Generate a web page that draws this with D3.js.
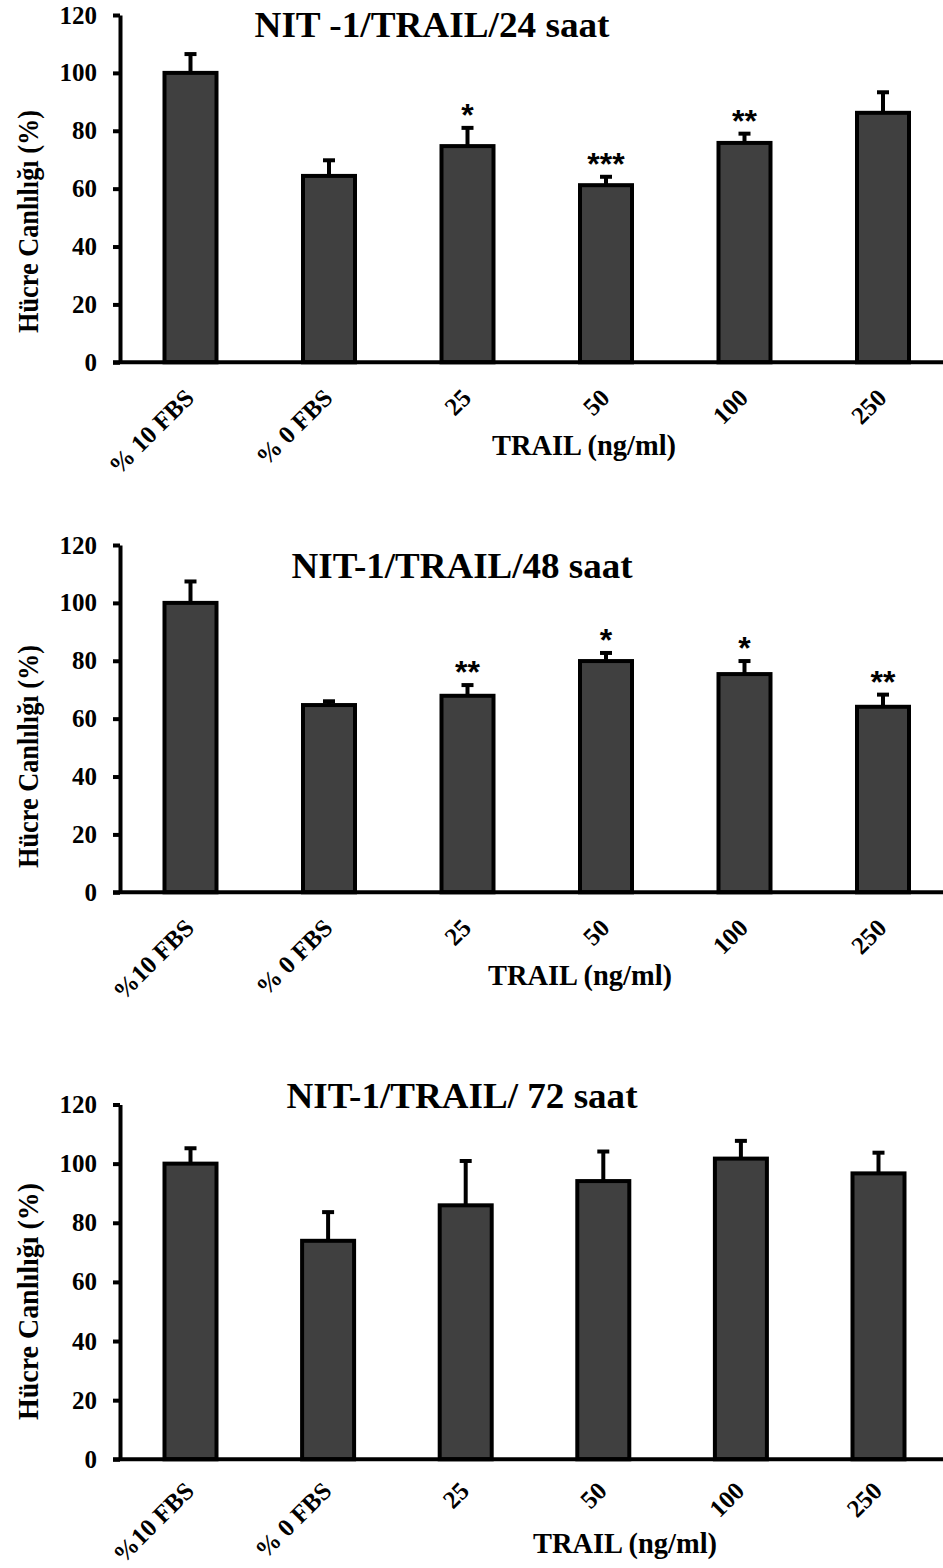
<!DOCTYPE html>
<html>
<head>
<meta charset="utf-8">
<script src="https://cdn.jsdelivr.net/npm/d3@7"></script>
<style>
  html, body { margin: 0; padding: 0; background: #fff; }
  svg { display: block; }
  text { font-family: "Liberation Serif", "Times New Roman", serif; font-weight: bold; fill: #000; }
</style>
</head>
<body>
<svg id="chart" width="943" height="1568"></svg>
<script>
// Cell viability (%) after TRAIL treatment, three incubation times
const categories24 = ["% 10 FBS", "% 0 FBS", "25", "50", "100", "250"];
const categories48 = ["%10 FBS", "% 0 FBS", "25", "50", "100", "250"];
const categories72 = ["%10 FBS", "% 0 FBS", "25", "50", "100", "250"];

const values24 = [100, 64.4, 74.7, 61.2, 75.8, 86.2];
const errors24 = [6.5, 5.4, 6.3, 2.9, 3.2, 7.1];
const stars24  = ["", "", "*", "***", "**", ""];

const values48 = [100, 64.7, 67.9, 79.9, 75.4, 64.1];
const errors48 = [7.4, 1.3, 3.7, 2.8, 4.5, 4.2];
const stars48  = ["", "", "**", "*", "*", "**"];

const values72 = [100, 73.9, 85.9, 94.1, 101.7, 96.7];
const errors72 = [5.2, 9.7, 15.0, 10.0, 6.0, 7.0];
const stars72  = ["", "", "", "", "", ""];

const yTicks = [0, 20, 40, 60, 80, 100, 120];

const titles = ["NIT -1/TRAIL/24 saat", "NIT-1/TRAIL/48 saat", "NIT-1/TRAIL/ 72 saat"];
const yAxisTitle = "Hücre Canlılığı (%)";
const xAxisTitle = "TRAIL (ng/ml)";

// Panel layout (pixels)
const panels = [
  { cats: categories24, vals: values24, errs: errors24, stars: stars24, title: titles[0],
    zeroY: 362.3, topY: 15, xFirst: 190.5, xLast: 883, labelDrop: 37,
    titleX: 432, titleY: 37, titleLen: 355,
    yLabelY: 221.5, yLabelLen: 223, xTitleX: 584, xTitleY: 455 },
  { cats: categories48, vals: values48, errs: errors48, stars: stars48, title: titles[1],
    zeroY: 892.3, topY: 545, xFirst: 190.5, xLast: 883, labelDrop: 37,
    titleX: 462, titleY: 578, titleLen: 341,
    yLabelY: 756.5, yLabelLen: 223, xTitleX: 580, xTitleY: 985 },
  { cats: categories72, vals: values72, errs: errors72, stars: stars72, title: titles[2],
    zeroY: 1459.3, topY: 1104.5, xFirst: 190.5, xLast: 878.5, labelDrop: 33,
    titleX: 462, titleY: 1108, titleLen: 351,
    yLabelY: 1301.5, yLabelLen: 237, xTitleX: 625, xTitleY: 1553 }
];

const svg = d3.select("#chart");
const axisX = 120;       // y-axis position
const barW = 52;
const capW = 12;
const lineW = 4;
const barFill = "#404040";

panels.forEach(p => {
  const g = svg.append("g");

  const y = d3.scaleLinear().domain([0, 120]).range([p.zeroY, p.topY]);
  const x = d3.scalePoint().domain(p.cats).range([p.xFirst, p.xLast]);

  const rows = p.cats.map((c, i) => ({ cat: c, v: p.vals[i], e: p.errs[i], s: p.stars[i] }));

  // bars
  g.selectAll("rect.bar").data(rows).join("rect")
    .attr("class", "bar")
    .attr("x", d => x(d.cat) - barW / 2)
    .attr("y", d => y(d.v))
    .attr("width", barW)
    .attr("height", d => y(0) - y(d.v))
    .attr("fill", barFill)
    .attr("stroke", "#000")
    .attr("stroke-width", lineW);

  // error bars (upper only)
  g.selectAll("line.err").data(rows).join("line")
    .attr("class", "err")
    .attr("x1", d => x(d.cat)).attr("x2", d => x(d.cat))
    .attr("y1", d => y(d.v)).attr("y2", d => y(d.v + d.e))
    .attr("stroke", "#000").attr("stroke-width", lineW);
  g.selectAll("line.cap").data(rows).join("line")
    .attr("class", "cap")
    .attr("x1", d => x(d.cat) - capW / 2).attr("x2", d => x(d.cat) + capW / 2)
    .attr("y1", d => y(d.v + d.e)).attr("y2", d => y(d.v + d.e))
    .attr("stroke", "#000").attr("stroke-width", lineW);

  // significance marks
  g.selectAll("text.star").data(rows.filter(d => d.s)).join("text")
    .attr("class", "star")
    .attr("x", d => x(d.cat))
    .attr("y", d => y(d.v + d.e) - 2)
    .attr("text-anchor", "middle")
    .style("font-family", "'Liberation Sans', Arial, sans-serif")
    .style("font-size", "32px")
    .text(d => d.s);

  // y axis
  const yAxis = g.append("g")
    .attr("transform", `translate(${axisX},0)`)
    .call(d3.axisLeft(y).tickValues(yTicks).tickSize(7).tickSizeOuter(0).tickPadding(16).tickFormat(d3.format("d")));
  yAxis.select(".domain").attr("stroke", "#000").attr("stroke-width", lineW);
  yAxis.selectAll(".tick line").attr("stroke", "#000").attr("stroke-width", lineW);
  yAxis.selectAll(".tick text")
    .style("font-size", "25px")
    .style("font-family", "'Liberation Serif', 'Times New Roman', serif")
    .style("font-weight", "bold")
    .attr("fill", "#000");

  // x axis baseline
  g.append("line")
    .attr("x1", 113).attr("x2", 943)
    .attr("y1", y(0)).attr("y2", y(0))
    .attr("stroke", "#000").attr("stroke-width", lineW);

  // x category labels, rotated
  const xAxis = g.append("g")
    .attr("transform", `translate(0,${y(0)})`)
    .call(d3.axisBottom(x).tickSize(0));
  xAxis.select(".domain").remove();
  xAxis.selectAll(".tick text")
    .attr("x", 0).attr("y", 0).attr("dy", 0)
    .attr("text-anchor", "end")
    .attr("transform", `translate(4.5,${p.labelDrop}) rotate(-45)`)
    .style("font-size", "25px")
    .style("font-family", "'Liberation Serif', 'Times New Roman', serif")
    .style("font-weight", "bold")
    .attr("fill", "#000");

  // titles
  g.append("text")
    .attr("x", p.titleX).attr("y", p.titleY)
    .attr("text-anchor", "middle")
    .attr("textLength", p.titleLen).attr("lengthAdjust", "spacingAndGlyphs")
    .style("font-size", "36px")
    .text(p.title);

  g.append("text")
    .attr("transform", `translate(38,${p.yLabelY}) rotate(-90)`)
    .attr("text-anchor", "middle")
    .attr("textLength", p.yLabelLen).attr("lengthAdjust", "spacingAndGlyphs")
    .style("font-size", "30px")
    .text(yAxisTitle);

  g.append("text")
    .attr("x", p.xTitleX).attr("y", p.xTitleY)
    .attr("text-anchor", "middle")
    .attr("textLength", 184).attr("lengthAdjust", "spacingAndGlyphs")
    .style("font-size", "29px")
    .text(xAxisTitle);
});
</script>
</body>
</html>
